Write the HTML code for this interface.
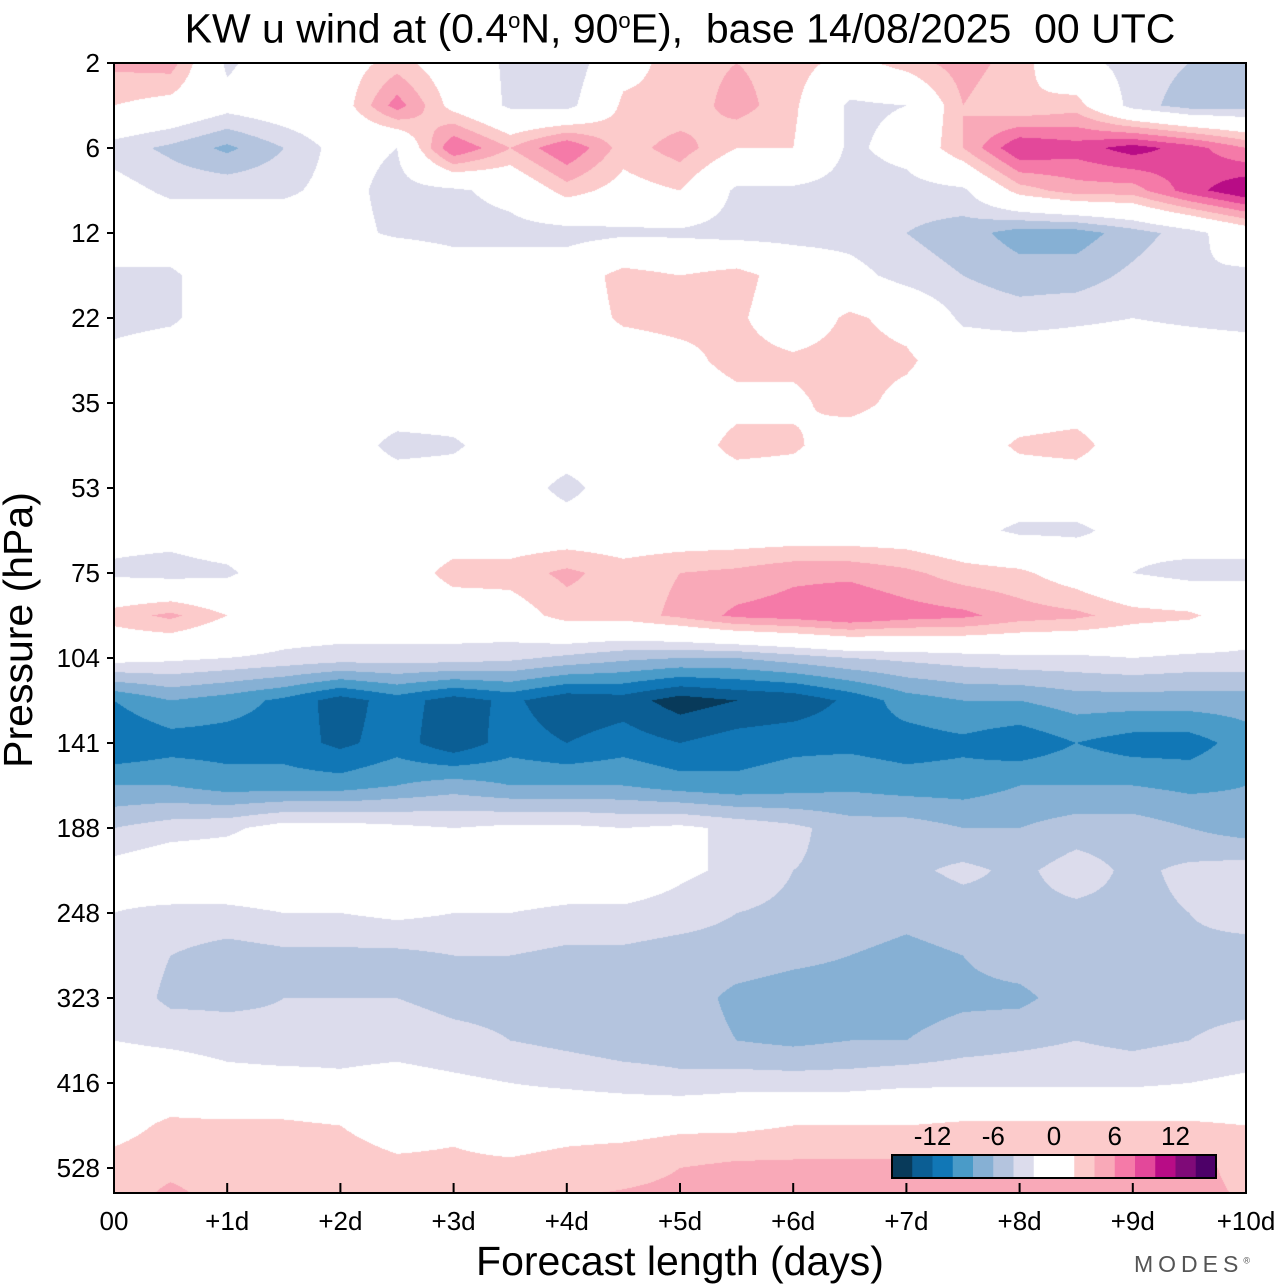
<!DOCTYPE html>
<html><head><meta charset="utf-8">
<style>
html,body{margin:0;padding:0;background:#fff;}
#wrap{position:relative;width:1280px;height:1286px;font-family:"Liberation Sans",sans-serif;color:#000;overflow:hidden;}
.t{position:absolute;white-space:nowrap;}
.yl{position:absolute;right:1180px;font-size:26px;line-height:26px;}
.xl{position:absolute;top:1207px;font-size:26px;line-height:28px;transform:translateX(-50%);}
.cbl{position:absolute;top:1122px;font-size:26px;line-height:28px;transform:translateX(-50%);}
</style></head><body>
<div id="wrap">
<div class="t" style="left:0;width:1360px;text-align:center;top:-1px;font-size:41px;line-height:44px;">KW u wind at (0.4<sup style="font-size:22px">o</sup>N, 90<sup style="font-size:22px">o</sup>E),&nbsp; base 14/08/2025&nbsp; 00 UTC</div>
<canvas id="cv" width="1132" height="1130" style="position:absolute;left:114px;top:63px;"></canvas>
<svg id="ax" width="1280" height="1286" style="position:absolute;left:0;top:0;"></svg>
<div id="labels"></div>
<div class="t" style="left:0;width:1360px;text-align:center;top:1239px;font-size:41px;line-height:44px;">Forecast length (days)</div>
<div class="t" style="left:18px;top:630px;font-size:41px;line-height:44px;transform:translate(-50%,-50%) rotate(-90deg);">Pressure (hPa)</div>
<div class="t" style="left:1134px;top:1251px;font-size:23px;letter-spacing:5px;color:#555;">MODES<sup style="font-size:9px;letter-spacing:0">®</sup></div>
</div>
<script>
const yTickLabels=["2","6","12","22","35","53","75","104","141","188","248","323","416","528"];
const xTickLabels=["00","+1d","+2d","+3d","+4d","+5d","+6d","+7d","+8d","+9d","+10d"];
const cbLabels=["-12","-6","0","6","12"];
const cbValues=[-12,-6,0,6,12];
const levels=[-16,-14,-12,-10,-8,-6,-4,-2,0,2,4,6,8,10,12,14,16];
const colors=["#083a5a","#0b5e94","#1177b6","#4a9bc8","#86b0d4","#b4c4de","#dcdcec","#ffffff","#ffffff","#fccbcb","#f9a9b8","#f57aa8","#e3489a","#b80c86","#7f0a78","#4d0068"];
// u wind grid: rows = levels (top->bottom), cols = forecast steps every 12h (0..10 days)
const r00=[4.5,5,-2.5,0,0.5,3,0,-2.5,-4,1,3,4,3,1,3,5,3,-1,-3,-4,-4];
const r01=[2,1,-1,0,0.5,7,1,-2.5,-3,2.5,2.5,5,2.5,-2.5,-2,4,2,3,-3,-5,-5];
const r02=[-3,-4.5,-6.5,-4,-1,-2,8,4,8,3,5,2,2,-2.5,-1,4,10,9,11,9,6];
const r03=[-1,-2.5,-2.5,-2.5,-1,-3,-2.5,-1,3,1,2,-2.5,-2.5,-3,-3,-2.5,3,5,5,9,12];
const r04=[0,0,0,0,-1,-2.5,-3,-3,-3,-2.5,-2.5,-3,-3,-3,-4,-5,-7,-7,-5,-3,0];
const r05=[-2.5,-2.5,0,0,1,2,0,0,0,3,2,3,0.5,-1,-3,-4,-5,-5,-3.5,-2,-2.5];
const r06=[-3,-2.5,0,0,0.5,1.5,0,0,0,2.5,3,2.5,0,2.5,1,-2.5,-3,-2.5,-2,-2.5,-3];
const r07=[-1,0,0,0,0,1,0,0,0,0,1,3,2.5,3,2.5,0,0,0,0,0,0];
const r08=[0,0,0,0,0,0,0,0,0,0,0,1,1.5,3,1,0,0,0.5,0,0.5,0];
const r09=[0,0,0,0,0,-3,-2.5,0,0,0,0,3,2.5,0,0,0,2.5,3,0,1.5,0];
const r10=[0,0,0,0,0,0,0,0,-3,0,0,0,0,0,0,0,0,0,0,0,0];
const r11=[-1,-1,0,0,0,0,0,0,0,0,0,0,0,0,0,-1,-2.5,-2.5,-1,0,-1];
const r12=[-2.5,-3,-2.5,0,0,0,3,3,4.5,3,4,4.5,5.5,5.5,4.5,3,2.5,0.5,-2,-3,-2.5];
const r13=[3,4.5,2,0,0,0,0,0.5,3,3,4.5,6.5,7,8,7,6.5,5,4.5,3,2.5,0];
const r14=[-1,-1.5,-2,-2.5,-3,-3,-3,-3.5,-4.5,-5.5,-6,-6,-5,-4,-3.5,-3,-2.5,-2.5,-2,-2.5,-2.5];
const r15=[-10,-8,-9,-10.5,-13,-11,-13,-11.5,-13.5,-13,-15,-14,-13.5,-11.5,-9,-8,-8,-7,-7,-7,-7];
const r16=[-12,-11,-11,-11,-12.5,-11,-13.5,-11,-12,-11,-12,-11,-10.5,-10.5,-11,-10.5,-11.5,-10,-11,-11,-9];
const r17=[-8,-8,-9,-9,-9,-8,-7,-8,-8,-8,-9,-9.5,-9,-8.5,-9,-9,-8,-8,-8,-8.5,-8];
const r18=[-4,-3,-2.5,-1,-1,-1.5,-2,-1.5,-1.5,-2,-1.5,-2.5,-3.5,-5,-5,-6,-6,-5,-5,-6,-7];
const r19=[-1,0,0,0,0,0,0,0,0,0,-1.5,-2.5,-4,-4.5,-4.5,-3.5,-4.5,-3,-4.5,-3.5,-3];
const r20=[-2,-2.5,-2.5,-2,-2,-1.5,-2,-2,-2.5,-2.5,-3,-4,-4.5,-5,-5.5,-5,-4.5,-4.5,-4.5,-4,-3];
const r21=[-2.5,-4,-5,-4.5,-4.5,-4.5,-4,-4,-4.5,-4.5,-5,-5,-5.5,-6,-6.5,-6,-5,-4.5,-4.5,-4.5,-5];
const r22=[-2.5,-4.5,-4.5,-4,-4,-4,-4.5,-4.5,-4.5,-4.5,-5,-6.5,-7,-7,-7,-6.5,-6.5,-5,-4.5,-4.5,-4.5];
const r23=[-2,-2.5,-3,-3.5,-3,-3,-3.5,-4,-4.5,-5,-5,-6,-6.5,-6,-6,-5,-4.5,-4,-4.5,-4,-3.5];
const r24=[0,0,-1,-1,-1.5,-1,-1.5,-2,-2.5,-3,-3.5,-3,-3,-3,-2.5,-2.5,-2.5,-2.5,-2.5,-2,-1.5];
const r25=[1,2.5,2.5,2.5,2,1,1.5,0.5,1,1,1.5,1.5,2,2,2,2.5,2.5,2.5,2.5,2.5,2];
const r26=[3,3.5,3,3,3,2.5,2.5,2.5,3,3.5,4,4.5,4.5,4.5,4.5,4.5,4.5,4.5,4.5,4.5,3.5];
const r27=[3,5,3.5,3,3,3,3.5,4,4.5,4.5,4.5,4.5,4.5,4.5,4.5,4.5,4.5,4.5,4.5,4.5,4];
const grid=[r00,r01,r02,r03,r04,r05,r06,r07,r08,r09,r10,r11,r12,r13,r14,r15,r16,r17,r18,r19,r20,r21,r22,r23,r24,r25,r26,r27];

const X0=114,X1=1246,Y0=63,YB=1193,ROW=42.5;
const nCols=grid[0].length;
function xCol(c){return X0+c*(X1-X0)/(nCols-1);}
function yRow(r){return Y0+r*ROW;}
function xDay(d){return X0+d*(X1-X0)/10;}
function yTick(i){return Y0+i*85;}
function colorIdx(v){let i=Math.floor((v-levels[0])/2);return Math.max(0,Math.min(colors.length-1,i));}
function hex(h){return [parseInt(h.substr(1,2),16),parseInt(h.substr(3,2),16),parseInt(h.substr(5,2),16)];}
const rgb=colors.map(hex);

const cv=document.getElementById('cv');const ctx=cv.getContext('2d');
const W=cv.width,H=cv.height;const img=ctx.createImageData(W,H);
for(let py=0;py<H;py++){
  const fy=(py+0.5)/ROW;let r=Math.floor(fy);if(r>grid.length-2)r=grid.length-2;const ty=fy-r;
  for(let px=0;px<W;px++){
    const fx=(px+0.5)/((X1-X0)/(nCols-1));let c=Math.floor(fx);if(c>nCols-2)c=nCols-2;const tx=fx-c;
    const v=(grid[r][c]*(1-tx)+grid[r][c+1]*tx)*(1-ty)+(grid[r+1][c]*(1-tx)+grid[r+1][c+1]*tx)*ty;
    const col=rgb[colorIdx(v)];const k=(py*W+px)*4;
    img.data[k]=col[0];img.data[k+1]=col[1];img.data[k+2]=col[2];img.data[k+3]=255;
  }
}
ctx.putImageData(img,0,0);

const NS='http://www.w3.org/2000/svg';const ax=document.getElementById('ax');
function mk(tag,attrs){const e=document.createElementNS(NS,tag);for(const k in attrs)e.setAttribute(k,attrs[k]);ax.appendChild(e);return e;}
const frame=mk('rect',{x:X0,y:Y0,width:X1-X0,height:YB-Y0,fill:'none',stroke:'#000','stroke-width':2});


const labels=document.getElementById('labels');
yTickLabels.forEach((t,i)=>{
  const y=yTick(i);
  const tk=mk('line',{x1:X0-7,x2:X0,y1:y,y2:y,stroke:'#000','stroke-width':2});
  
  
  const d=document.createElement('div');d.className='yl';d.style.top=(y-13)+'px';d.textContent=t;
  
  
  labels.appendChild(d);
});
xTickLabels.forEach((t,i)=>{
  const x=xDay(i);
  const tk=mk('line',{x1:x,x2:x,y1:YB-10,y2:YB,stroke:'#000','stroke-width':2});
  
  
  const d=document.createElement('div');d.className='xl';d.style.left=x+'px';d.textContent=t;
  
  
  labels.appendChild(d);
});
const CB0=892,CB1=1216,CBY=1155,CBH=23;const bw=(CB1-CB0)/colors.length;
function xCb(v){return CB0+(v-levels[0])/(levels[levels.length-1]-levels[0])*(CB1-CB0);}
colors.forEach((c,i)=>{
  const r=mk('rect',{x:CB0+i*bw,y:CBY,width:bw+0.5,height:CBH,fill:c});
  
  
});
const cbf=mk('rect',{x:CB0,y:CBY,width:CB1-CB0,height:CBH,fill:'none',stroke:'#000','stroke-width':2});


cbLabels.forEach((t,i)=>{
  const d=document.createElement('div');d.className='cbl';d.style.left=xCb(cbValues[i])+'px';d.textContent=t;
  
  
  labels.appendChild(d);
});
</script>
</body></html>
